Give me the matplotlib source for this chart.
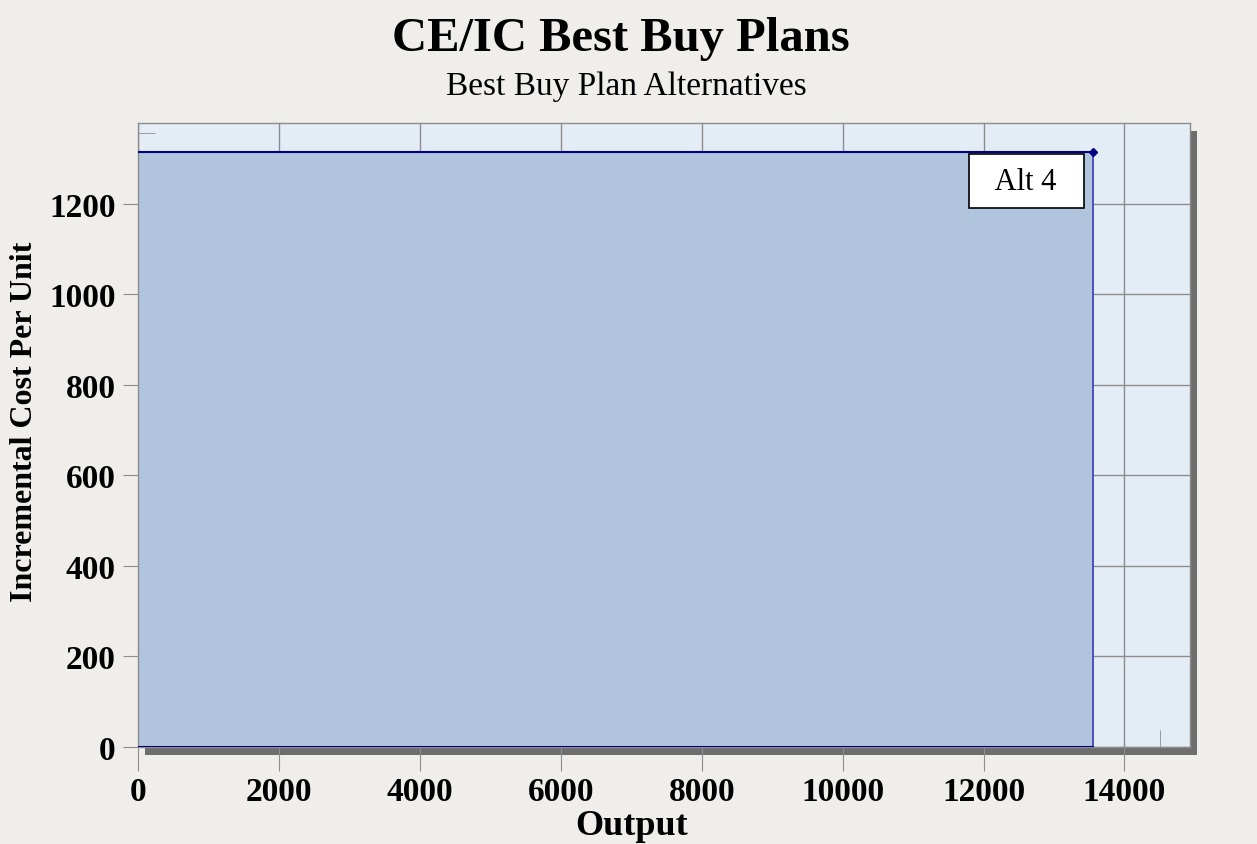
import matplotlib.pyplot as plt
from matplotlib.patches import Rectangle
from matplotlib.transforms import ScaledTranslation

# Best buy plan data
alt_names = ['Alt 4']
output = [13560]
incr_cost = [1315]

x_ticks = [0, 2000, 4000, 6000, 8000, 10000, 12000, 14000]
y_ticks = [0, 200, 400, 600, 800, 1000, 1200]

serif = 'Liberation Serif'
fig = plt.figure(figsize=(12.57, 8.45), dpi=100, facecolor='#efeeea')
ax = fig.add_axes([138 / 1257, 1 - 748 / 845, 1052 / 1257, 624 / 845])
ax.set_facecolor('#e4edf6')
ax.set_xlim(0, 14930)
ax.set_ylim(0, 1379)

# drop shadow behind the plot box
shadow = Rectangle((0, 0), 1, 1, facecolor='#6e6e6e', edgecolor='none', zorder=-5, clip_on=False)
shadow.set_transform(ax.transAxes + ScaledTranslation(7 / 100, -8 / 100, fig.dpi_scale_trans))
shadow.set_figure(fig)
fig.patches.append(shadow)

ax.grid(True, color='#8c8c8c', linewidth=1)
ax.set_axisbelow(True)

# filled step area for each plan
prev = 0
for name, xo, yc in zip(alt_names, output, incr_cost):
    ax.fill_between([prev, xo], [yc, yc], 0, color='#b0c4de', zorder=2, linewidth=0)
    ax.plot([prev, xo], [yc, yc], color='#000080', linewidth=1.5, zorder=3)
    ax.plot([xo, xo], [yc, 0], color='#3a3ab8', linewidth=1.2, zorder=3)
    ax.plot([prev, xo], [0, 0], color='#000080', linewidth=1.5, zorder=3)
    ax.plot([xo], [yc], marker='D', markersize=4, color='#000080', zorder=4, clip_on=False)
    ax.annotate('  ' + name + '  ', xy=(xo, yc), xytext=(-48, -21), textcoords='offset points',
                ha='center', va='center', fontsize=22, family=serif, zorder=5,
                bbox=dict(boxstyle='square,pad=0.4', facecolor='white', edgecolor='black', linewidth=1.2))
    prev = xo

ax.set_xticks(x_ticks)
ax.set_yticks(y_ticks)
ax.set_xticks([14500], minor=True)
ax.set_yticks([1357], minor=True)
ax.tick_params(axis='x', which='major', length=17, pad=4, color='#8c8c8c')
ax.tick_params(axis='y', which='major', length=11, pad=5, color='#8c8c8c')
ax.tick_params(which='minor', direction='in', length=12, color='#8c8c8c')
for lab in ax.get_xticklabels() + ax.get_yticklabels():
    lab.set_family(serif)
    lab.set_fontsize(24)
    lab.set_fontweight('bold')
for s in ax.spines.values():
    s.set_color('#8c8c8c')
    s.set_linewidth(1)

fig.text(0.494, 1 - 39 / 845, 'CE/IC Best Buy Plans', ha='center', va='center',
         family=serif, fontsize=35, fontweight='bold')
fig.text(0.498, 1 - 87 / 845, 'Best Buy Plan Alternatives', ha='center', va='center',
         family=serif, fontsize=24)
fig.text(632 / 1257, 1 - 827 / 845, 'Output', ha='center', va='center',
         family=serif, fontsize=26, fontweight='bold')
fig.text(25 / 1257, 1 - 422 / 845, 'Incremental Cost Per Unit', ha='center', va='center',
         rotation=90, family=serif, fontsize=23, fontweight='bold')

fig.savefig('out.png', dpi=100, facecolor=fig.get_facecolor())
